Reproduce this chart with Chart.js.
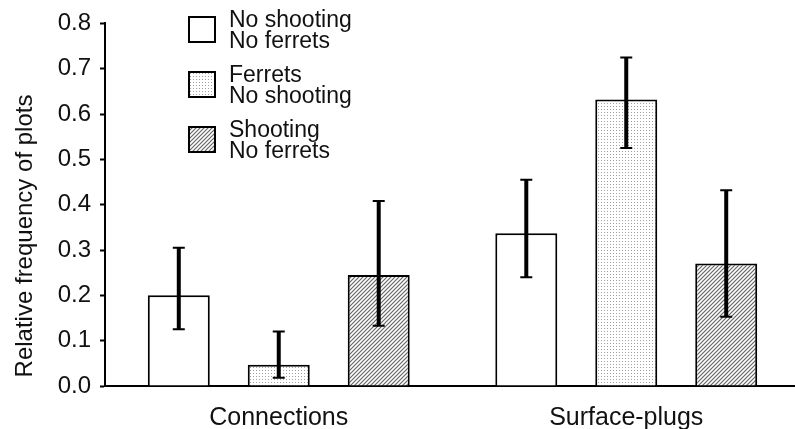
<!DOCTYPE html>
<html>
<head>
<meta charset="utf-8">
<script src="https://cdn.jsdelivr.net/npm/chart.js@4.4.0/dist/chart.umd.min.js"></script>
<style>
  html, body { margin: 0; padding: 0; background: #fff; overflow: hidden; }
  #wrap { width: 800px; height: 429px; }
</style>
</head>
<body>
<div id="wrap"><canvas id="chart"></canvas></div>
<script>
const categories = ["Connections", "Surface-plugs"];
const groupLabels = [["No shooting", "No ferrets"], ["Ferrets", "No shooting"], ["Shooting", "No ferrets"]];
const noShootNoFerrets = [0.200, 0.337];
const ferretsNoShoot = [0.047, 0.632];
const shootNoFerrets = [0.245, 0.270];
const errHigh = [[0.305, 0.455], [0.120, 0.725], [0.408, 0.432]];
const errLow = [[0.125, 0.240], [0.018, 0.525], [0.133, 0.153]];
const yTicks = [0, 0.1, 0.2, 0.3, 0.4, 0.5, 0.6, 0.7, 0.8];
const yTitle = "Relative frequency of plots";

const FONT = "'Liberation Sans', Arial, sans-serif";

function dotPattern() {
    const c = document.createElement("canvas");
    c.width = 3; c.height = 3;
    const g = c.getContext("2d");
    g.fillStyle = "#fff";
    g.fillRect(0, 0, 3, 3);
    g.fillStyle = "#a0a0a0";
    g.fillRect(1, 1, 1, 1);
    return g.createPattern(c, "repeat");
}

function hatchPattern() {
    const c = document.createElement("canvas");
    c.width = 4; c.height = 4;
    const g = c.getContext("2d");
    g.fillStyle = "#fff";
    g.fillRect(0, 0, 4, 4);
    g.strokeStyle = "#666";
    g.lineWidth = 1.2;
    g.beginPath();
    g.moveTo(0, 4); g.lineTo(4, 0);
    g.moveTo(-1, 1); g.lineTo(1, -1);
    g.moveTo(3, 5); g.lineTo(5, 3);
    g.stroke();
    return g.createPattern(c, "repeat");
}

const fills = ["#ffffff", dotPattern(), hatchPattern()];
const series = [noShootNoFerrets, ferretsNoShoot, shootNoFerrets];

// error bars drawn on top of the bars
const errorBars = {
    id: "errorBars",
    afterDatasetsDraw(chart) {
        const ctx = chart.ctx;
        const y = chart.scales.y;
        ctx.save();
        ctx.strokeStyle = "#000";
        chart.data.datasets.forEach((ds, i) => {
            const meta = chart.getDatasetMeta(i);
            meta.data.forEach((bar, j) => {
                const top = y.getPixelForValue(errHigh[i][j]);
                const bot = y.getPixelForValue(errLow[i][j]);
                ctx.lineWidth = 4;
                ctx.beginPath();
                ctx.moveTo(bar.x, top);
                ctx.lineTo(bar.x, bot);
                ctx.stroke();
                ctx.lineWidth = 2;
                ctx.beginPath();
                ctx.moveTo(bar.x - 6, top);
                ctx.lineTo(bar.x + 6, top);
                ctx.moveTo(bar.x - 6, bot);
                ctx.lineTo(bar.x + 6, bot);
                ctx.stroke();
            });
        });
        ctx.restore();
    }
};

// two-line legend in the upper left, plus the rotated y title
const boxLegend = {
    id: "boxLegend",
    afterDraw(chart) {
        const ctx = chart.ctx;
        ctx.save();
        ctx.font = "23px " + FONT;
        ctx.textBaseline = "alphabetic";
        chart.data.datasets.forEach((ds, i) => {
            const top = 17 + i * 55;
            ctx.fillStyle = ds.backgroundColor;
            ctx.fillRect(189, top, 26, 25);
            ctx.strokeStyle = "#000";
            ctx.lineWidth = 2;
            ctx.strokeRect(189, top, 26, 25);
            ctx.fillStyle = "#111";
            ds.label.forEach((line, k) => {
                ctx.fillText(line, 229, top + 10 + k * 20.5);
            });
        });

        ctx.translate(25, 236);
        ctx.rotate(-Math.PI / 2);
        ctx.font = "24px " + FONT;
        ctx.textAlign = "center";
        ctx.textBaseline = "middle";
        ctx.fillText(yTitle, 0, 0);
        ctx.restore();
    }
};

new Chart(document.getElementById("chart"), {
    type: "bar",
    data: {
        labels: categories,
        datasets: series.map((vals, i) => ({
            label: groupLabels[i],
            data: vals,
            backgroundColor: fills[i],
            borderColor: "#000",
            borderWidth: 2,
            categoryPercentage: 0.863,
            barPercentage: 0.62
        }))
    },
    options: {
        responsive: true,
        maintainAspectRatio: false,
        animation: false,
        layout: { padding: { top: 20, right: 0, bottom: 0, left: 0 } },
        plugins: {
            legend: { display: false },
            tooltip: { enabled: false }
        },
        scales: {
            x: {
                grid: { display: false },
                border: { display: true, color: "#000", width: 2 },
                ticks: { color: "#111", font: { family: FONT, size: 25 }, padding: 9 },
                afterFit(scale) { scale.height = 43; }
            },
            y: {
                min: 0,
                max: 0.8,
                afterBuildTicks(scale) { scale.ticks = yTicks.map(v => ({ value: v })); },
                grid: { drawOnChartArea: false, drawTicks: true, tickLength: 5, tickWidth: 2, tickColor: "#000" },
                border: { display: true, color: "#000", width: 2 },
                ticks: {
                    color: "#111",
                    font: { family: FONT, size: 24 },
                    padding: 9,
                    callback: v => v.toFixed(1)
                },
                afterFit(scale) { scale.width = 105; }
            }
        }
    },
    plugins: [errorBars, boxLegend]
});
</script>
</body>
</html>
